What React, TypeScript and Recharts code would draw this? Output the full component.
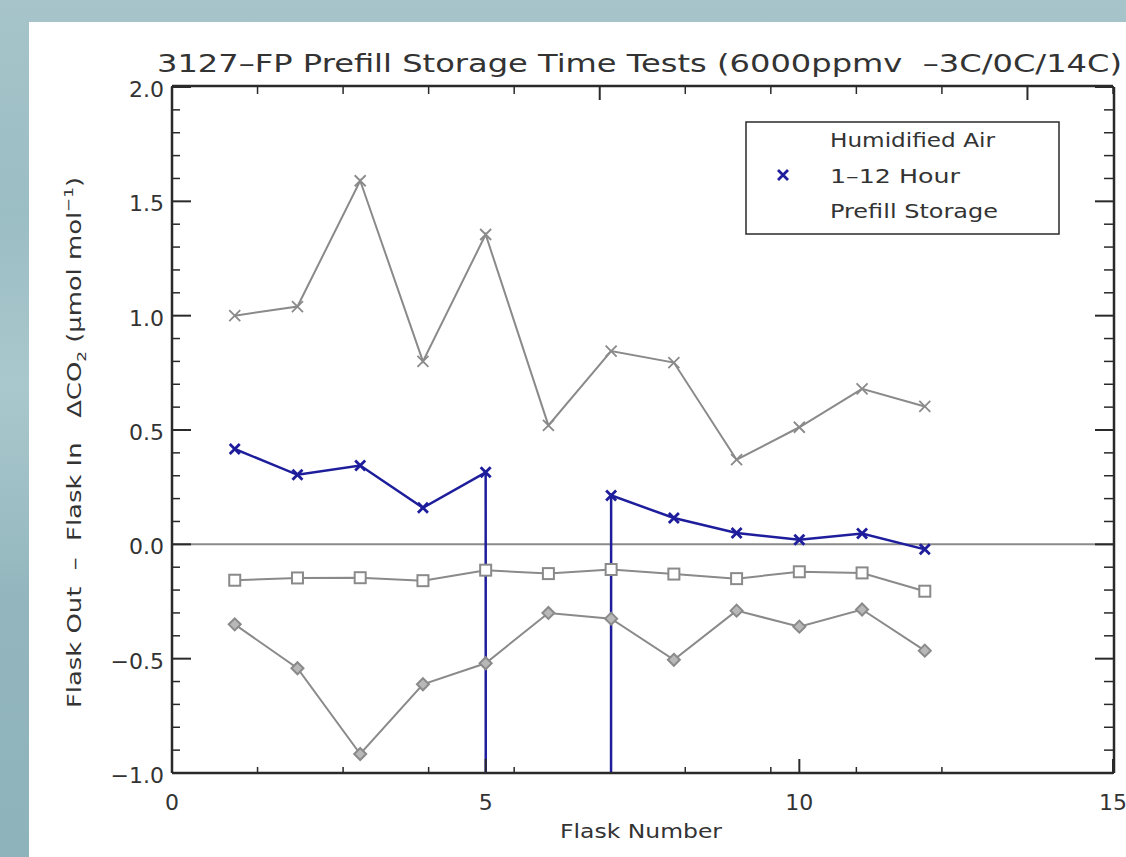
import React from "react";
import { LineChart, Line, XAxis, YAxis, ReferenceLine } from "recharts";

// Flask-by-flask CO2 differences (out - in), µmol/mol
const flaskNumbers = [1, 2, 3, 4, 5, 6, 7, 8, 9, 10, 11, 12];
const grayCross = [1.0, 1.04, 1.59, 0.8, 1.355, 0.52, 0.845, 0.795, 0.37, 0.512, 0.68, 0.603];
// -999 is the missing-flask flag; the trace drops out of the frame there
const humidPrefill = [0.417, 0.304, 0.345, 0.16, 0.315, -999, 0.214, 0.115, 0.05, 0.02, 0.047, -0.022];
const graySquare = [-0.157, -0.147, -0.146, -0.159, -0.113, -0.128, -0.11, -0.13, -0.15, -0.12, -0.125, -0.205];
const grayDiamond = [-0.35, -0.542, -0.917, -0.612, -0.52, -0.3, -0.325, -0.505, -0.29, -0.36, -0.285, -0.465];

const xMajorTicks = [0, 5, 10, 15];
const xMinorTicks = [1, 2, 3, 4, 6, 7, 8, 9, 11, 12, 13, 14];
const yMajorTicks = [-1, -0.5, 0, 0.5, 1, 1.5, 2];
const yMinorTicks = [
  -0.9, -0.8, -0.7, -0.6, -0.4, -0.3, -0.2, -0.1, 0.1, 0.2, 0.3, 0.4,
  0.6, 0.7, 0.8, 0.9, 1.1, 1.2, 1.3, 1.4, 1.6, 1.7, 1.8, 1.9,
];

const data = flaskNumbers.map((flask, i) => ({
  flask,
  grayCross: grayCross[i],
  humidPrefill: humidPrefill[i],
  graySquare: graySquare[i],
  grayDiamond: grayDiamond[i],
}));

const GRAY = "#8a8a8a";
const BLUE = "#1e1e9c";
const INK = "#2a2a2a";
const TEXT = "#333";
const FONT = "DejaVu Sans";

const fmtY = (v: number) => (v < 0 ? "\u2212" + Math.abs(v).toFixed(1) : v.toFixed(1));

// inward tick marks, IDL style; the label (if any) sits outside the frame
type Side = "left" | "right" | "top" | "bottom";
const inwardTick = (side: Side, len: number, width: number, label?: (v: number) => string) => (p: any) => {
  const { x, y, payload } = p;
  const v = payload?.value;
  let d = "";
  if (side === "left") d = `M${x},${y}H${x + len}`;
  if (side === "right") d = `M${x},${y}H${x - len}`;
  if (side === "bottom") d = `M${x},${y}V${y - len}`;
  if (side === "top") d = `M${x},${y}V${y + len}`;
  return (
    <g>
      <path d={d} stroke={INK} strokeWidth={width} fill="none" />
      {label && side === "left" && (
        <text x={x - 8} y={y + 10} textAnchor="end" fontSize={22} fill={TEXT} fontFamily={FONT}>
          {label(v)}
        </text>
      )}
      {label && side === "bottom" && (
        <text x={x} y={y + 37} textAnchor="middle" fontSize={22} fill={TEXT} fontFamily={FONT}>
          {label(v)}
        </text>
      )}
    </g>
  );
};

const crossDot = (color: string, r: number, w: number) => (p: any) => {
  const { cx, cy, index } = p;
  if (cx == null || cy == null) return <g key={index} />;
  return (
    <path
      key={index}
      d={`M${cx - r},${cy - r}L${cx + r},${cy + r}M${cx - r},${cy + r}L${cx + r},${cy - r}`}
      stroke={color}
      strokeWidth={w}
      fill="none"
    />
  );
};

const squareDot = (p: any) => {
  const { cx, cy, index } = p;
  return <rect key={index} x={cx - 5.5} y={cy - 5.5} width={11} height={11} fill="#fff" stroke={GRAY} strokeWidth={2} />;
};

const diamondDot = (p: any) => {
  const { cx, cy, index } = p;
  return (
    <path
      key={index}
      d={`M${cx},${cy - 6}L${cx + 6},${cy}L${cx},${cy + 6}L${cx - 6},${cy}Z`}
      fill="#b8b8b8"
      stroke={GRAY}
      strokeWidth={2}
    />
  );
};

const frame = { stroke: INK, strokeWidth: 2.5 };

export default function App() {
  const xCommon = { type: "number" as const, domain: [0, 15], allowDataOverflow: true, interval: 0, height: 1, tickSize: 0, tickMargin: 0, tickLine: false };
  const yCommon = { type: "number" as const, domain: [-1, 2], allowDataOverflow: true, interval: 0, width: 1, tickSize: 0, tickMargin: 0, tickLine: false };
  return (
    <div
      style={{
        position: "fixed",
        left: 0,
        top: 0,
        width: 1126,
        height: 857,
        overflow: "hidden",
        background: "linear-gradient(180deg, #a6c4ca 0%, #9bbdc4 25%, #a9c8cd 45%, #93b6be 70%, #8fb3bb 100%)",
      }}
    >
      <div style={{ position: "absolute", left: 29, top: 22, right: 0, bottom: 0, background: "#fff" }} />
      <div style={{ position: "absolute", left: 0, top: 0 }}>
        <LineChart width={1126} height={857} data={data} margin={{ top: 85, right: 11, bottom: 82, left: 170 }}>
          {/* boxed frame: labelled axes plus mirrored top/right */}
          <XAxis {...xCommon} xAxisId="main" dataKey="flask" ticks={xMajorTicks} axisLine={frame}
            tick={inwardTick("bottom", 14, 2, (v) => String(v))} />
          <XAxis {...xCommon} xAxisId="minorBottom" ticks={xMinorTicks} axisLine={false}
            tick={inwardTick("bottom", 7, 1.5)} />
          <XAxis {...xCommon} xAxisId="top" orientation="top" ticks={xMajorTicks} axisLine={frame}
            tick={inwardTick("top", 14, 2)} />
          <XAxis {...xCommon} xAxisId="minorTop" orientation="top" ticks={xMinorTicks} axisLine={false}
            tick={inwardTick("top", 7, 1.5)} />
          <YAxis {...yCommon} yAxisId="main" ticks={yMajorTicks} axisLine={frame}
            tick={inwardTick("left", 19, 2, fmtY)} />
          <YAxis {...yCommon} yAxisId="minorLeft" ticks={yMinorTicks} axisLine={false}
            tick={inwardTick("left", 9, 1.5)} />
          <YAxis {...yCommon} yAxisId="right" orientation="right" ticks={yMajorTicks} axisLine={frame}
            tick={inwardTick("right", 19, 2)} />
          <YAxis {...yCommon} yAxisId="minorRight" orientation="right" ticks={yMinorTicks} axisLine={false}
            tick={inwardTick("right", 9, 1.5)} />

          <ReferenceLine xAxisId="main" yAxisId="main" y={0} stroke={GRAY} strokeWidth={2} />

          <Line xAxisId="main" yAxisId="main" dataKey="grayCross" stroke={GRAY} strokeWidth={2}
            dot={crossDot(GRAY, 5.5, 1.8)} isAnimationActive={false} />
          <Line xAxisId="main" yAxisId="main" dataKey="graySquare" stroke={GRAY} strokeWidth={2}
            dot={squareDot} isAnimationActive={false} />
          <Line xAxisId="main" yAxisId="main" dataKey="grayDiamond" stroke={GRAY} strokeWidth={2}
            dot={diamondDot} isAnimationActive={false} />
          <Line xAxisId="main" yAxisId="main" dataKey="humidPrefill" stroke={BLUE} strokeWidth={2.5}
            dot={crossDot(BLUE, 5, 2.8)} isAnimationActive={false} />
        </LineChart>
      </div>

      {/* titles and legend box */}
      <svg
        width={1126}
        height={857}
        style={{ position: "absolute", left: 0, top: 0, pointerEvents: "none" }}
        fontFamily={FONT}
        fill={TEXT}
      >
        <text x={157} y={72} fontSize={25} textLength={965} lengthAdjust="spacingAndGlyphs" style={{ whiteSpace: "pre" }}>
          3127–FP Prefill Storage Time Tests (6000ppmv  –3C/0C/14C)
        </text>
        <text x={560} y={838} fontSize={20} textLength={162} lengthAdjust="spacingAndGlyphs">
          Flask Number
        </text>
        <g transform="translate(81 708) rotate(-90)">
          <text x={0} y={0} fontSize={20} textLength={531} lengthAdjust="spacingAndGlyphs" style={{ whiteSpace: "pre" }}>
            {"Flask Out  –  Flask In   ΔCO"}
            <tspan fontSize={13} dy={5}>2</tspan>
            <tspan dy={-5}>{" (μmol mol"}</tspan>
            <tspan fontSize={13} dy={-8}>−1</tspan>
            <tspan dy={8}>)</tspan>
          </text>
        </g>

        <rect x={746} y={122} width={313} height={112} fill="#fff" stroke={INK} strokeWidth={1.5} />
        <text x={830} y={147} fontSize={20} textLength={165} lengthAdjust="spacingAndGlyphs">Humidified Air</text>
        <path d="M778,170L788,180M778,180L788,170" stroke={BLUE} strokeWidth={2.8} />
        <text x={830} y={183} fontSize={20} textLength={130} lengthAdjust="spacingAndGlyphs">1–12 Hour</text>
        <text x={830} y={218} fontSize={20} textLength={168} lengthAdjust="spacingAndGlyphs">Prefill Storage</text>
      </svg>
    </div>
  );
}
